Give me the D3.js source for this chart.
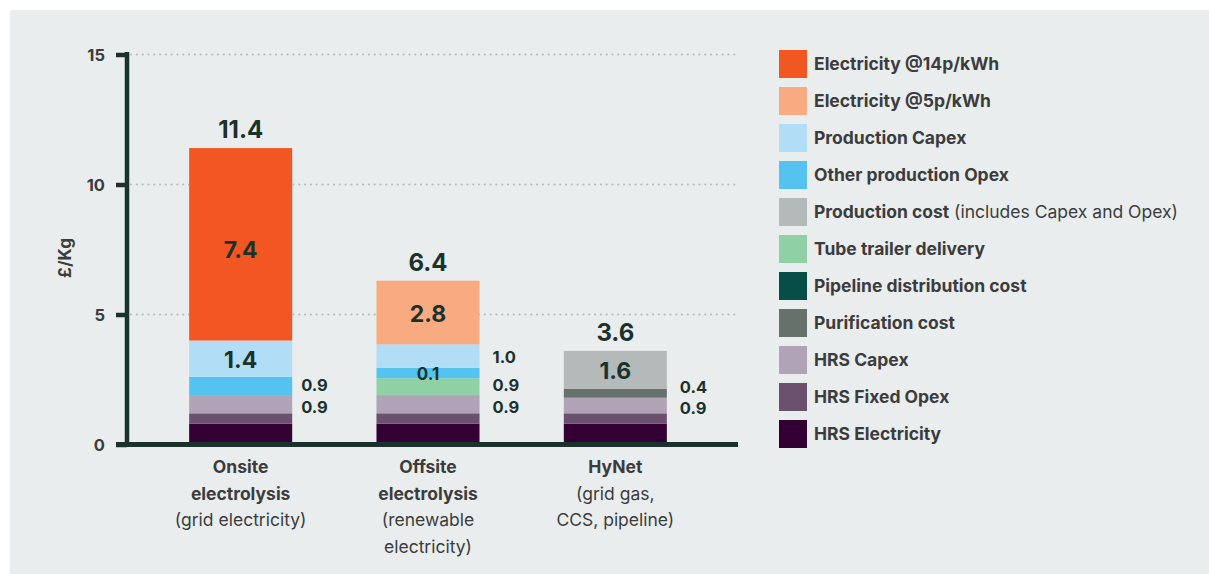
<!DOCTYPE html>
<html>
<head>
<meta charset="utf-8">
<script src="https://cdn.jsdelivr.net/npm/d3@7"></script>
<style>
  html, body { margin: 0; padding: 0; background: #ffffff; }
  svg { display: block; }
  text { font-family: Inter, "Noto Sans", sans-serif; }
</style>
</head>
<body>
<svg id="chart" width="1209" height="574"></svg>
<script>
// ---------------- DATA ----------------
const categories = ["Onsite electrolysis", "Offsite electrolysis", "HyNet"];
const categoryBold = [["Onsite", "electrolysis"], ["Offsite", "electrolysis"], ["HyNet"]];
const categoryNote = [["(grid electricity)"], ["(renewable", "electricity)"], ["(grid gas,", "CCS, pipeline)"]];

const seriesNames = [
  "HRS Electricity", "HRS Fixed Opex", "HRS Capex", "Purification cost",
  "Pipeline distribution cost", "Tube trailer delivery", "Production cost",
  "Other production Opex", "Production Capex", "Electricity @5p/kWh", "Electricity @14p/kWh"
];
const hrsElectricity   = [0.8, 0.8, 0.8];
const hrsFixedOpex     = [0.4, 0.4, 0.4];
const hrsCapex         = [0.7, 0.7, 0.6];
const purificationCost = [0, 0, 0.35];
const pipelineCost     = [0, 0, 0];
const tubeTrailer      = [0, 0.65, 0];
const productionCost   = [0, 0, 1.45];
const otherProdOpex    = [0.7, 0.4, 0];
const productionCapex  = [1.4, 0.9, 0];
const electricity5p    = [0, 2.45, 0];
const electricity14p   = [7.4, 0, 0];
const seriesValues = [hrsElectricity, hrsFixedOpex, hrsCapex, purificationCost, pipelineCost,
  tubeTrailer, productionCost, otherProdOpex, productionCapex, electricity5p, electricity14p];

const totalLabels = ["11.4", "6.4", "3.6"];
// [category index, series name, label text]
const insideLabels = [
  [0, "Electricity @14p/kWh", "7.4"], [0, "Production Capex", "1.4"],
  [1, "Electricity @5p/kWh", "2.8"], [1, "Other production Opex", "0.1"],
  [2, "Production cost", "1.6"]
];
const sideLabels = [
  [0, "Other production Opex", "0.9"], [0, "HRS Capex", "0.9"],
  [1, "Production Capex", "1.0"], [1, "Tube trailer delivery", "0.9"], [1, "HRS Capex", "0.9"],
  [2, "Purification cost", "0.4"], [2, "HRS Capex", "0.9"]
];

const legendNames = [
  "Electricity @14p/kWh", "Electricity @5p/kWh", "Production Capex", "Other production Opex",
  "Production cost", "Tube trailer delivery", "Pipeline distribution cost", "Purification cost",
  "HRS Capex", "HRS Fixed Opex", "HRS Electricity"
];
const legendNotes = { "Production cost": " (includes Capex and Opex)" };
const seriesColors = {
  "Electricity @14p/kWh": "#f15623",
  "Electricity @5p/kWh": "#f8aa80",
  "Production Capex": "#b2ddf6",
  "Other production Opex": "#55c3ef",
  "Production cost": "#b3bab9",
  "Tube trailer delivery": "#8fd0a5",
  "Pipeline distribution cost": "#064e47",
  "Purification cost": "#66716c",
  "HRS Capex": "#b1a3b6",
  "HRS Fixed Opex": "#6b516e",
  "HRS Electricity": "#330033"
};
const yTicks = [0, 5, 10, 15];
const yLabel = "£/Kg";

// ---------------- CHART ----------------
const svg = d3.select("#chart");
const dark = "#1b322c";
const textCol = "#3c3c3c";

svg.append("rect").attr("x", 10).attr("y", 10).attr("width", 1199).attr("height", 564).attr("fill", "#e9edee");

const y = d3.scaleLinear().domain([0, 15]).range([444.5, 54.5]);
const x = d3.scaleBand().domain(categories).range([147, 709]).paddingInner(0.45).paddingOuter(0.225);

// table for stack
const table = categories.map((c, i) => {
  const row = { category: c };
  seriesNames.forEach((s, j) => row[s] = seriesValues[j][i]);
  return row;
});
const stacked = d3.stack().keys(seriesNames)(table);
const segOf = (ci, name) => stacked.find(s => s.key === name)[ci];

// gridlines
svg.append("g").selectAll("line").data(yTicks.filter(t => t > 0)).join("line")
  .attr("x1", 131).attr("x2", 738)
  .attr("y1", d => y(d)).attr("y2", d => y(d))
  .attr("stroke", "#b9bcbd").attr("stroke-width", 2.2)
  .attr("stroke-linecap", "round").attr("stroke-dasharray", "0.1,5.7");

// bars
svg.append("g").selectAll("g").data(stacked).join("g")
  .attr("fill", d => seriesColors[d.key])
  .selectAll("rect").data(d => d).join("rect")
  .attr("x", d => x(d.data.category))
  .attr("width", x.bandwidth())
  .attr("y", d => y(d[1]))
  .attr("height", d => Math.max(0, y(d[0]) - y(d[1])));

// y axis
const yAxis = svg.append("g").attr("transform", "translate(127,0)")
  .call(d3.axisLeft(y).tickValues(yTicks).tickSize(11).tickPadding(11).tickFormat(d3.format("d")));
yAxis.select(".domain").remove();
yAxis.selectAll(".tick line").attr("stroke", dark).attr("stroke-width", 4.5);
yAxis.selectAll(".tick text").attr("fill", textCol).attr("font-size", 16.5).attr("font-weight", 700)
  .attr("font-family", "Inter, sans-serif").attr("dy", "0.36em");
svg.append("line").attr("x1", 127).attr("x2", 127).attr("y1", 52).attr("y2", 447)
  .attr("stroke", dark).attr("stroke-width", 4.5);
svg.append("line").attr("x1", 116).attr("x2", 738).attr("y1", y(0)).attr("y2", y(0))
  .attr("stroke", dark).attr("stroke-width", 5);

svg.append("text").attr("transform", "translate(71,258) rotate(-90)")
  .attr("text-anchor", "middle").attr("fill", textCol).attr("font-size", 17).attr("font-weight", 700)
  .text(yLabel);

// total labels
svg.append("g").selectAll("text").data(categories).join("text")
  .attr("x", d => x(d) + x.bandwidth() / 2)
  .attr("y", (d, i) => y(d3.sum(seriesValues, v => v[i])) - 10)
  .attr("text-anchor", "middle").attr("fill", dark).attr("font-size", 24).attr("font-weight", 700)
  .text((d, i) => totalLabels[i]);

// inside labels
svg.append("g").selectAll("text").data(insideLabels).join("text")
  .attr("x", d => x(categories[d[0]]) + x.bandwidth() / 2)
  .attr("y", d => { const s = segOf(d[0], d[1]); return (y(s[0]) + y(s[1])) / 2 + (d[1] === "Electricity @14p/kWh" ? 5 : 1); })
  .attr("dy", "0.36em")
  .attr("text-anchor", "middle").attr("fill", dark)
  .attr("font-size", d => d[2] === "0.1" ? 17 : 23).attr("font-weight", 700)
  .text(d => d[2]);

// side labels
const sideShift = { "Purification cost": -6, "HRS Capex": 2.5, "Tube trailer delivery": -1.5, "Other production Opex": -0.5 };
svg.append("g").selectAll("text").data(sideLabels).join("text")
  .attr("x", d => x(categories[d[0]]) + x.bandwidth() + (d[0] === 0 ? 9 : 13))
  .attr("y", d => { const s = segOf(d[0], d[1]); return (y(s[0]) + y(s[1])) / 2 + (sideShift[d[1]] || 1); })
  .attr("dy", "0.36em")
  .attr("fill", dark).attr("font-size", 16.5).attr("font-weight", 700)
  .text(d => d[2]);

// category labels
categories.forEach((c, i) => {
  const cx = x(c) + x.bandwidth() / 2;
  const lines = categoryBold[i].map(t => [t, 700]).concat(categoryNote[i].map(t => [t, 400]));
  svg.append("g").selectAll("text").data(lines).join("text")
    .attr("x", cx).attr("y", (d, k) => 473 + k * 26.7)
    .attr("text-anchor", "middle").attr("fill", textCol).attr("font-size", 17.5)
    .attr("font-weight", d => d[1]).text(d => d[0]);
});

// legend
const leg = svg.append("g").selectAll("g").data(legendNames).join("g")
  .attr("transform", (d, i) => `translate(779,${50 + i * 37})`);
leg.append("rect").attr("width", 28).attr("height", 28).attr("fill", d => seriesColors[d]);
const lt = leg.append("text").attr("x", 35).attr("y", 14).attr("dy", "0.36em")
  .attr("fill", textCol).attr("font-size", 17.5);
lt.append("tspan").attr("font-weight", 700).text(d => d);
lt.filter(d => legendNotes[d]).append("tspan").attr("font-weight", 400).text(d => legendNotes[d]);
</script>
</body>
</html>
